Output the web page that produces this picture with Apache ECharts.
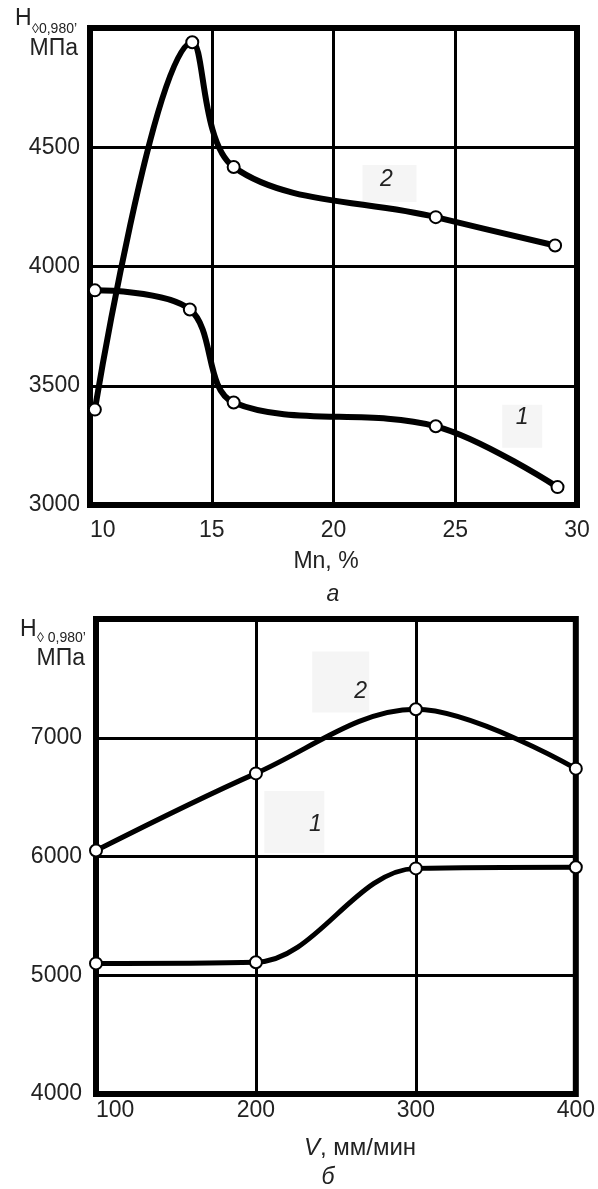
<!DOCTYPE html>
<html>
<head>
<meta charset="utf-8">
<script src="https://cdn.jsdelivr.net/npm/echarts@6/dist/echarts.min.js"></script>
<style>
html, body { margin: 0; padding: 0; background: #fff; }
#chart { width: 598px; height: 1189px; }
</style>
</head>
<body>
<div id="chart"></div>
<script>
// (а) hardness vs Mn content, %
var mnCurve1 = [[10.2, 3900], [14.1, 3820], [15.9, 3430], [24.2, 3330], [29.2, 3075]];
var mnCurve2 = [[10.2, 3400], [14.2, 4940], [15.9, 4417], [24.2, 4207], [29.1, 4088]];
var mnTicks = [10, 15, 20, 25, 30];
var mnHardTicks = [3000, 3500, 4000, 4500, 5000];

// (б) hardness vs cutting speed, мм/мин
var speedCurve1 = [[100, 5100], [200, 5110], [300, 5900], [400, 5910]];
var speedCurve2 = [[100, 6050], [200, 6700], [300, 7240], [400, 6740]];
var speedTicks = [100, 200, 300, 400];
var speedHardTicks = [4000, 5000, 6000, 7000, 8000];

// curve numbers (text, x, y in data units)
var mnTags = [['2', 22.3, 4348], ['1', 27.75, 3330]];
var speedTags = [['2', 253, 7470], ['1', 224, 6290]];

var FONT = "'Liberation Sans', Arial, sans-serif";
var INK = '#222';

var myChart = echarts.init(document.getElementById('chart'));

function plain(v) { return String(v); }

function xAxisFor(gi, ticks, margin) {
    return {
        type: 'value', gridIndex: gi,
        min: ticks[0], max: ticks[ticks.length - 1], interval: ticks[1] - ticks[0],
        axisLine: {show: false}, axisTick: {show: false},
        splitLine: {show: true, lineStyle: {color: '#000', width: 3}},
        axisLabel: {fontSize: 23, color: INK, fontFamily: FONT, margin: margin, alignMinLabel: 'left', formatter: plain}
    };
}
function yAxisFor(gi, ticks, margin) {
    return {
        type: 'value', gridIndex: gi,
        min: ticks[0], max: ticks[ticks.length - 1], interval: ticks[1] - ticks[0],
        axisLine: {show: false}, axisTick: {show: false},
        splitLine: {show: true, lineStyle: {color: '#000', width: 3}},
        axisLabel: {fontSize: 23, color: INK, fontFamily: FONT, margin: margin, showMaxLabel: false, formatter: plain}
    };
}
// box size and text offset for each tag
var tagBoxes = {
    mn: [{size: [54, 37], offset: [-3, -4]}, {size: [40, 43], offset: [0, -9]}],
    speed: [{size: [57, 61], offset: [20, 10]}, {size: [60, 62], offset: [21, 3]}]
};
function tagsFor(tags, boxes) {
    return {
        symbol: 'rect', silent: true,
        itemStyle: {color: '#f5f5f5'},
        label: {show: true, position: 'inside', color: INK, fontSize: 23, fontStyle: 'italic', fontFamily: FONT,
            formatter: function (p) { return p.name; }},
        data: tags.map(function (t, i) {
            return {name: t[0], coord: [t[1], t[2]], symbolSize: boxes[i].size, label: {offset: boxes[i].offset}};
        })
    };
}
function curve(data, gi, width, marks) {
    var s = {
        type: 'line', xAxisIndex: gi, yAxisIndex: gi, data: data,
        smooth: 0.35,
        symbol: 'circle', symbolSize: 12, showAllSymbol: true,
        lineStyle: {color: '#000', width: width, cap: 'round', join: 'round'},
        itemStyle: {color: '#fff', borderColor: '#000', borderWidth: 2},
        emphasis: {disabled: true},
        z: 5
    };
    if (marks) s.markPoint = marks;
    return s;
}

var option = {
    animation: false,
    backgroundColor: '#fff',
    textStyle: {fontFamily: FONT},
    grid: [
        {left: 90, right: 21, top: 28, bottom: 684, show: true, borderColor: '#000', borderWidth: 6, backgroundColor: 'transparent'},
        {left: 96, right: 18, top: 619, bottom: 95, show: true, borderColor: '#000', borderWidth: 6, backgroundColor: 'transparent'}
    ],
    xAxis: [xAxisFor(0, mnTicks, 14), xAxisFor(1, speedTicks, 5)],
    yAxis: [yAxisFor(0, mnHardTicks, 10), yAxisFor(1, speedHardTicks, 14)],
    series: [
        curve(mnCurve1, 0, 6, tagsFor(mnTags, tagBoxes.mn)),
        curve(mnCurve2, 0, 6),
        curve(speedCurve1, 1, 5, tagsFor(speedTags, tagBoxes.speed)),
        curve(speedCurve2, 1, 5)
    ],
    graphic: [
        // y titles
        {type: 'text', left: 15, top: 7, style: {text: 'H', font: '23px ' + FONT, fill: INK}},
        {type: 'text', left: 32, top: 22, style: {text: '\u25ca0,980\u2019', font: '14px ' + FONT, fill: INK}},
        {type: 'text', right: 520, top: 37, style: {text: 'МПа', font: '23px ' + FONT, fill: INK}},
        {type: 'text', left: 20, top: 618, style: {text: 'H', font: '23px ' + FONT, fill: INK}},
        {type: 'text', left: 37, top: 631, style: {text: '\u25ca 0,980\u2019', font: '14px ' + FONT, fill: INK}},
        {type: 'text', right: 513, top: 647, style: {text: 'МПа', font: '23px ' + FONT, fill: INK}},
        // x titles and captions
        {type: 'text', x: 326, y: 562, style: {text: 'Mn, %', font: '23px ' + FONT, fill: INK, align: 'center', verticalAlign: 'middle'}},
        {type: 'text', x: 333, y: 595, style: {text: 'а', font: 'italic 23px ' + FONT, fill: INK, align: 'center', verticalAlign: 'middle'}},
        {type: 'text', x: 360, y: 1148, style: {
            text: '{i|V}, мм/мин', font: '24px ' + FONT, fill: INK, align: 'center', verticalAlign: 'middle',
            rich: {i: {fontStyle: 'italic', fontSize: 24, fontFamily: FONT, fill: INK}}}},
        {type: 'text', x: 328, y: 1178, style: {text: 'б', font: 'italic 23px ' + FONT, fill: INK, align: 'center', verticalAlign: 'middle'}}
    ]
};

myChart.setOption(option);
</script>
</body>
</html>
